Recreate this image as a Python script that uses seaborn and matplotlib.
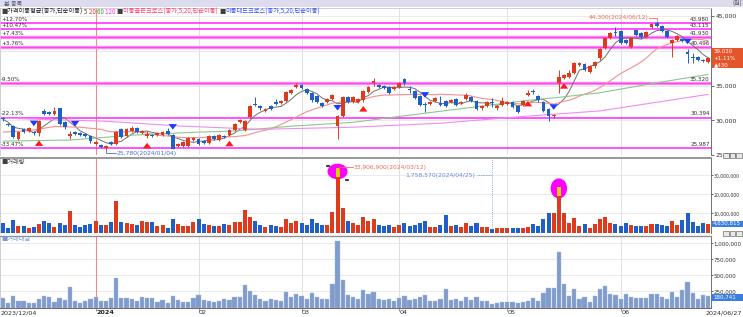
import numpy as np
import pandas as pd
import matplotlib
matplotlib.use("Agg")
import matplotlib.pyplot as plt
import seaborn as sns
from matplotlib.patches import Rectangle, Ellipse

sns.set_theme(style="white")
plt.rcParams['font.family'] = ['Noto Sans CJK KR', 'DejaVu Sans']
plt.rcParams['axes.unicode_minus'] = False

# ---------------- data ----------------
opens = [30200,29450,29150,27300,28700,28450,28300,28150,31300,31150,
         30850,31700,29700,27700,28300,28200,28000,27700,26550,26450,
         26000,26850,26600,28700,27700,28450,28850,28150,27700,27900,
         27850,27850,28450,27850,26300,26300,26300,27150,27300,27000,
         26700,27700,27150,27700,27850,28600,29700,28600,30450,32300,
         32000,31300,32000,32600,32450,32750,34000,34750,35050,34450,
         34000,33450,32450,32600,33000,29150,30600,33300,32600,32600,
         32850,34050,35300,35050,35000,34750,34450,34750,36000,34400,
         34150,33450,32300,32300,32750,32450,32750,32600,33000,32450,
         33000,33300,32750,31700,32000,32600,31700,32150,32300,32600,
         32000,32150,33600,34200,33450,32600,31600,30550,35300,36150,
         36300,36750,38000,38150,37000,37750,38900,40450,41850,42750,
         42900,41600,40600,43000,42600,42000,43450,44000,43600,42900,
         41150,41600,41750,39850,39050,39050,38700,38450]
highs = [30450,29600,29300,28450,28850,29000,28500,30050,31600,31400,
         31900,31800,29850,28450,28450,28350,28150,27850,27000,26600,
         26450,27000,28500,28850,28900,29150,29000,28600,28400,28050,
         28300,28450,28850,28000,26700,27000,27600,27600,27450,27150,
         27850,27850,28000,27850,28750,29600,30150,30000,32150,33300,
         32150,31750,32150,33000,32900,34200,34450,35400,35200,34600,
         34100,33600,32600,33200,33750,30750,33450,33450,33450,33150,
         34300,34900,36150,35200,35150,34900,34900,35450,36150,35000,
         34300,33600,32600,32750,33300,33450,32900,33050,33150,32750,
         33900,33450,32900,32150,32750,33150,32150,33300,32750,32750,
         32150,32900,34300,34450,33600,32750,31750,30850,37300,36600,
         37300,38450,38450,38300,38000,38600,40450,42000,42750,43450,
         43050,41750,42000,43150,42750,42900,44000,44300,43750,43050,
         41750,42300,41900,40300,39750,39300,38850,39150]
lows = [29900,29150,27400,27150,28150,28300,27950,27750,30700,30800,
        30700,29300,28800,27300,27850,27750,27550,26800,26400,26000,
        25780,26400,26450,27450,27550,28300,28150,28000,27400,27550,
        27700,27700,27850,25800,26150,26150,26150,27000,26450,26600,
        26550,27150,27000,27450,27700,28450,29550,28450,30300,32000,
        31550,31150,31450,32150,32300,32600,33850,34600,34450,33850,
        32700,32450,31850,32450,32850,27300,30450,32450,32450,32450,
        32700,33900,34900,34600,34450,33850,34300,34600,35150,34000,
        33000,32000,31150,32150,32600,32000,31850,32450,32000,32300,
        32850,32600,31450,31550,31850,31850,31550,32000,32150,31700,
        31000,32000,33450,33850,32700,31150,29850,30400,34000,36000,
        36150,36600,37850,37150,36850,37600,38750,40300,41700,42150,
        41000,41000,40450,42150,41850,41850,43300,43450,42750,41850,
        39150,41450,41300,38300,38300,38600,38450,38300]
closes = [30150,29300,27600,28300,28300,28850,28150,29850,30850,30950,
          31300,29450,29000,28000,28000,27900,27700,26950,26850,26150,
          26300,26550,28300,27600,28700,28850,28300,28450,28000,27700,
          28150,28300,28000,25850,26550,26850,27450,27400,26600,26750,
          27700,27300,27850,27600,28600,29450,30000,29850,32000,32250,
          31700,31600,31600,32300,32750,34050,34300,35050,34600,34000,
          32850,32600,32000,33000,33600,30600,33300,32600,33300,33000,
          34150,34750,35600,34750,34600,34000,34750,35300,35300,34350,
          33150,32150,32150,32600,33150,32150,32000,32900,32150,32600,
          33600,32750,31600,32000,32600,32550,32000,32750,32600,31850,
          31150,32750,34000,34100,32850,31300,30550,30700,36300,36450,
          36750,38300,38300,37300,37850,38450,40300,41850,42600,42600,
          41150,41150,41850,42300,42000,42750,43850,43600,42900,42000,
          41600,42150,41450,39600,39000,38750,38600,39030]
volume_mil = [4.9,2.6,6.5,3.6,3.6,2.6,2.7,4.3,5.8,5.1,
              2.9,5.0,4.1,11.2,3.8,2.7,3.8,4.7,5.9,4.0,
              4.0,5.6,16.4,5.4,5.2,4.4,3.7,6.0,5.3,5.6,
              3.2,4.2,2.5,7.0,4.5,3.4,3.3,5.4,7.1,4.5,
              3.8,3.3,3.6,4.6,4.2,5.4,5.3,11.7,8.0,6.0,
              4.0,3.0,4.0,3.5,3.0,7.0,5.0,6.0,5.0,4.0,
              7.0,5.0,4.0,4.0,11.0,33.9069,13.0,6.0,5.0,4.0,
              8.0,6.0,7.0,4.0,3.5,4.0,3.0,4.0,5.0,3.5,
              4.0,5.0,6.0,3.0,3.0,4.0,9.0,3.5,4.0,3.0,
              5.0,3.5,5.0,3.0,3.0,1.75857,2.3,2.5,2.5,2.5,
              2.3,2.6,2.8,4.3,3.2,7.2,10.0,10.0,24.0,10.0,
              5.0,7.6,3.4,4.5,2.4,4.5,7.0,8.0,5.0,4.5,
              3.2,5.0,4.0,3.5,3.4,3.4,4.7,4.7,4.0,3.2,
              6.0,3.8,6.5,10.0,5.7,3.4,5.0,4.630815]
ma20_head_idx = [0, 5, 10, 15, 19]
ma20_head_val = [28300, 28500, 29100, 29000, 28700]
ma60_idx = [0, 13, 25, 38, 45, 56, 68, 85, 102, 108, 116, 127, 137]
ma60_val = [27000, 27150, 27850, 28300, 28450, 29150, 29700, 31300, 32870, 33300, 33970, 35400, 36600]
ma120_idx = [0, 20, 35, 50, 68, 85, 102, 116, 137]
ma120_val = [30300, 29860, 29150, 28700, 29000, 29580, 30600, 31350, 33730]
golden_idx = [7, 28, 44, 70, 102, 109]
dead_idx = [6, 14, 33, 65, 82, 107, 133]
level_prices = [43980, 43115, 41930, 40496, 35320, 30394, 25987]
level_pcts = ['+12.70%', '+10.47%', '+7.43%', '+3.76%', '-9.50%', '-22.13%', '-33.47%']
level_names = ['43,980', '43,115', '41,930', '40,496', '35,320', '30,394', '25,987']
price_ticks = [45000, 40000, 35000, 30000, 25000]
price_tick_labels = ['45,000', '', '35,000', '30,000', '25,000']
vol_ticks = [10e6, 20e6, 30e6]
val_ticks = [250000, 500000, 750000, 1000000]
month_pos = [38, 58, 77, 98, 120]
month_labels = ['02', '03', '04', '05', '06']
year_pos = 18
first_date, last_date = '2023/12/04', '2024/06/27'
low_date, high_date = '2024/01/04', '2024/06/12'
maxvol_date, minvol_date = '2024/03/12', '2024/04/25'
prev_close = 38600

# ---------------- derived ----------------
n = len(closes)
df = pd.DataFrame(dict(i=np.arange(n), o=opens, h=highs, l=lows, c=closes,
                       v=np.array(volume_mil) * 1e6))
df['ma5'] = df.c.rolling(5, min_periods=1).mean()
df['ma20'] = df.c.rolling(20).mean()
df['value'] = df.v * df.c / 1e6
df['up'] = df.c >= df.o
ma20_x = ma20_head_idx + list(df.i[20:])
ma20_y = ma20_head_val + list(df.ma20[20:])

UP, DN = '#e03a1c', '#1f5fc8'
W, H = 743, 317
fig = plt.figure(figsize=(W / 100, H / 100), dpi=100)
fig.patch.set_facecolor('white')
fx = lambda x: x / W
fy = lambda y: 1 - y / H
NUM = ['DejaVu Sans']

def add_ax(x0, y0, x1, y1):
    a = fig.add_axes([fx(x0), fy(y1), (x1 - x0) / W, (y1 - y0) / H])
    a.set_facecolor('white')
    return a

X0, X1 = -0.58, 137.56
FS = 4.6
TXT = '#303030'

# header strip
fig.patches.append(Rectangle((0, fy(7)), 1, 7 / H, transform=fig.transFigure,
                             facecolor='#dcdcee', edgecolor='none', zorder=0))
fig.text(fx(4), fy(3.5), '본 종목', fontsize=4.4, color='#555577', va='center')
fig.text(fx(742), fy(3.5), '(원)', fontsize=4.4, color='#555555', va='center', ha='right')

# ---------------- price panel ----------------
ax = add_ax(0, 8, 711, 155)
ax.set_xlim(X0, X1)
ax.set_ylim(25147, 46168)
for p in price_ticks:
    ax.axhline(p, color='#e6e6e6', lw=0.6, zorder=0)
for m in month_pos:
    ax.axvline(m, color='#e0e0e0', lw=0.7, zorder=0)
ax.axvline(year_pos, color='#f08a8a', lw=0.8, zorder=0)

styles = [('#ff22ff', 1.1), ('#ff22ff', 1.1), ('#ff88ee', 2.4), ('#ff88ee', 2.4),
          ('#ff88ee', 2.4), ('#ff22ff', 1.1), ('#ff22ff', 1.1)]
for p, pct, nm, (col, lw) in zip(level_prices, level_pcts, level_names, styles):
    ax.axhline(p, color=col, lw=lw, zorder=1)
    if lw > 2:
        ax.axhline(p, color='#ff33ff', lw=0.6, zorder=1)
    ax.annotate(pct, xy=(X0, p), xytext=(0.8, 1.0), textcoords='offset points',
                fontsize=4.1, family=NUM, color=TXT, va='bottom', ha='left')
    ax.annotate(nm, xy=(X1, p), xytext=(-1, 1.0), textcoords='offset points',
                fontsize=4.1, family=NUM, color=TXT, va='bottom', ha='right')

# moving averages
sns.lineplot(x=df.i, y=df.ma5, ax=ax, color='#707070', lw=0.7, legend=False, zorder=2)
sns.lineplot(x=ma20_x, y=ma20_y, ax=ax, color='#f39090', lw=0.8, legend=False, zorder=2)
sns.lineplot(x=ma60_idx, y=ma60_val, ax=ax, color='#8cc88c', lw=0.8, legend=False, zorder=2)
sns.lineplot(x=ma120_idx, y=ma120_val, ax=ax, color='#f08cf0', lw=0.8, legend=False, zorder=2)

# candles
for r in df.itertuples():
    col = UP if r.up else DN
    ax.vlines(r.i, r.l, r.h, color=col, lw=0.7, zorder=3)
    body = max(abs(r.c - r.o), 110)
    ax.bar(r.i, body, bottom=min(r.o, r.c), width=0.74, color=col, lw=0, zorder=4)

# cross arrows
AST = 'simple,head_width=0.75,head_length=0.5,tail_width=0.38'
for g in golden_idx:
    lo = df.l[g]
    ax.annotate('', xy=(g, lo - 250), xytext=(g, lo - 1450),
                arrowprops=dict(arrowstyle=AST, color='#ff1a1a', lw=0, mutation_scale=8), zorder=5)
for d in dead_idx:
    hi = df.h[d]
    ax.annotate('', xy=(d, hi + 250), xytext=(d, hi + 1450),
                arrowprops=dict(arrowstyle=AST, color='#1a3cff', lw=0, mutation_scale=8), zorder=5)

# high / low annotations
il = int(np.argmin(lows)); ih = int(np.argmax(highs))
ax.plot([il, il, il + 2], [lows[il] - 80, lows[il] - 500, lows[il] - 500], color='#4a6ad0', lw=0.6, zorder=5)
ax.text(il + 2.1, lows[il] - 500, f"{lows[il]:,}({low_date})", fontsize=4.3, family=NUM,
        color='#4a6ad0', va='center', ha='left')
ax.plot([ih - 1.5, ih, ih], [highs[ih] + 500, highs[ih] + 500, highs[ih] + 80], color='#f06a55', lw=0.6, zorder=5)
ax.text(ih - 1.6, highs[ih] + 500, f"{highs[ih]:,}({high_date})", fontsize=4.3, family=NUM,
        color='#f06a55', va='center', ha='right')

ax.yaxis.tick_right()
ax.set_yticks(price_ticks)
ax.set_yticklabels(price_tick_labels, family=NUM)
ax.tick_params(axis='y', labelsize=4.4, colors=TXT, length=2, width=0.5, pad=1.5, direction='out', right=True)
ax.set_xticks([])
ax.set_xlabel(''); ax.set_ylabel('')
for s in ['left', 'top']:
    ax.spines[s].set_color('#c8c8c8'); ax.spines[s].set_linewidth(0.6)
ax.spines['bottom'].set_visible(False)
ax.spines['right'].set_color('#707070'); ax.spines['right'].set_linewidth(0.7)

# header legend text (sequential)
renderer = fig.canvas.get_renderer()
def seq_text(x, y, parts, size):
    for s, col in parts:
        t = fig.text(fx(x), fy(y), s, fontsize=size, color=col, va='center', ha='left')
        x += t.get_window_extent(renderer=renderer).width
seq_text(1, 11.5, [('■', '#404040'), ('가격이동평균(종가,단순이동) ', '#202020'), ('5 ', '#505050'),
                   ('20 ', '#ff3030'), ('60 ', '#2ca02c'), ('120 ', '#ff30ff'),
                   ('■', '#404040'), ('이동골든크로스(종가,5,20,단순이동) ', '#ff3c6e'),
                   ('■', '#404040'), ('이동데드크로스(종가,5,20,단순이동)', '#3050ff')], 4.5)

# price box
last = closes[-1]
y_last = (46168 - last) / 143 + 8
fig.patches.append(Rectangle((fx(712), fy(y_last + 10)), 31 / W, 20 / H, transform=fig.transFigure,
                             facecolor='#e4552c', edgecolor='none', zorder=10))
chg = last - prev_close
for dy, s in [(-6.3, f"{last:,}"), (0.2, f"+{chg / prev_close * 100:.2f}%"), (6.6, f"▲{chg:,}")]:
    fig.text(fx(713.5), fy(y_last + dy), s, fontsize=4.0, family=NUM, color='white', va='center', zorder=11)

# ---------------- volume panel ----------------
av = add_ax(0, 158, 711, 233)
av.set_xlim(X0, X1)
av.set_ylim(-0.26e6, 39.2e6)
for t in vol_ticks:
    av.axhline(t, color='#e6e6e6', lw=0.6, zorder=0)
for m in month_pos:
    av.axvline(m, color='#e0e0e0', lw=0.7, zorder=0)
av.axvline(year_pos, color='#f08a8a', lw=0.8, zorder=0)
av.bar(df.i, df.v, width=0.78, color=[UP if u else DN for u in df.up], lw=0, zorder=2)
imax = int(df.v.idxmax()); imin = int(df.v.idxmin())
i2 = int(df.v.drop(index=range(imax - 3, imax + 4)).idxmax())
for k in (imax, i2):
    av.bar(k, 4.6e6, bottom=df.v[k] - 4.6e6, width=0.78, color='#d8d400', lw=0, zorder=3)
av.add_patch(Ellipse((imax, df.v[imax] - 1.8e6), 3.9, 8.2e6, facecolor='#ff00ff', edgecolor='none', zorder=1.5))
av.add_patch(Ellipse((i2, df.v[i2] - 0.8e6), 3.2, 10.5e6, facecolor='#ff00ff', edgecolor='none', zorder=1.5))
av.plot([imax - 2, imax - 1.6], [df.v[imax] + 1.0e6, df.v[imax] + 1.0e6], color='#404040', lw=1.6, zorder=6)
av.plot([imax + 1.6, imax + 2.0], [df.v[imax] - 6.5e6, df.v[imax] - 6.5e6], color='#404040', lw=1.6, zorder=6)
av.plot([imax + 0.3, imax + 0.3, imax + 3], [df.v[imax] - 1e6, df.v[imax] + 0.5e6, df.v[imax] + 0.5e6],
        color='#f06a55', lw=0.6, zorder=6)
av.text(imax + 3.1, df.v[imax] + 0.5e6, f"{int(df.v[imax]):,}({maxvol_date})", fontsize=4.3, family=NUM,
        color='#f06a55', va='center', ha='left')
ymin_txt = 30.0e6
av.text(imin - 3.2, ymin_txt, f"{int(df.v[imin]):,}({minvol_date})", fontsize=4.3, family=NUM,
        color='#6a8ad8', va='center', ha='right')
av.plot([imin - 3.0, imin], [ymin_txt, ymin_txt], color='#6a8ad8', lw=0.6, ls=(0, (1, 1)), zorder=6)
av.plot([imin, imin], [df.v[imin], 39e6], color='#6a8ad8', lw=0.6, ls=(0, (1, 1.5)), zorder=6)
av.yaxis.tick_right()
av.set_yticks(vol_ticks)
av.set_yticklabels([f"{int(t):,}" for t in vol_ticks], family=NUM)
av.tick_params(axis='y', labelsize=3.3, colors=TXT, length=1.2, width=0.5, pad=0.6, right=True)
av.set_xticks([])
av.set_xlabel(''); av.set_ylabel('')
av.spines['top'].set_color('#909090'); av.spines['top'].set_linewidth(1.3)
av.spines['left'].set_color('#c8c8c8'); av.spines['left'].set_linewidth(0.6)
av.spines['bottom'].set_visible(False)
av.spines['right'].set_color('#707070'); av.spines['right'].set_linewidth(0.7)
fig.text(fx(1), fy(161.5), '■거래량', fontsize=4.5, color='#404040', va='center')

# ---------------- trading value panel ----------------
aw = add_ax(0, 236, 711, 308)
aw.set_xlim(X0, X1)
aw.set_ylim(-7800, 1115400)
for t in val_ticks:
    aw.axhline(t, color='#e6e6e6', lw=0.6, zorder=0)
for m in month_pos:
    aw.axvline(m, color='#e0e0e0', lw=0.7, zorder=0)
aw.axvline(year_pos, color='#f08a8a', lw=0.8, zorder=0)
sns.barplot(x=df.i, y=df.value, ax=aw, native_scale=True, color='#7f9ccc', width=0.82,
            saturation=1, edgecolor='#a9bde0', linewidth=0.3, zorder=2)
aw.set_xlim(X0, X1)
aw.yaxis.tick_right()
aw.set_yticks(val_ticks)
aw.set_yticklabels([f"{t:,}" for t in val_ticks], family=NUM)
aw.tick_params(axis='y', labelsize=4.0, colors=TXT, length=1.2, width=0.5, pad=0.8, right=True)
aw.set_xticks(month_pos + [year_pos])
aw.set_xticklabels([])
aw.tick_params(axis='x', length=2, width=0.5, colors='#707070', bottom=True)
aw.set_xlabel(''); aw.set_ylabel('')
aw.spines['top'].set_color('#909090'); aw.spines['top'].set_linewidth(1.0)
aw.spines['left'].set_color('#c8c8c8'); aw.spines['left'].set_linewidth(0.6)
aw.spines['bottom'].set_color('#707070'); aw.spines['bottom'].set_linewidth(0.8)
aw.spines['right'].set_color('#707070'); aw.spines['right'].set_linewidth(0.7)
fig.text(fx(1), fy(238.5), '■거래대금', fontsize=4.5, color='#7c9ad0', va='center')

# value boxes
def box(y_px, text):
    fig.patches.append(Rectangle((fx(712), fy(y_px + 3.2)), 31 / W, 6.4 / H, transform=fig.transFigure,
                                 facecolor='#3b7ee0', edgecolor='none', zorder=10))
    fig.text(fx(713), fy(y_px), text, fontsize=4.0, family=NUM, color='white', va='center', zorder=11)
vlast = df.v.iloc[-1]
box(232.5 - vlast / 1e6 * 1.9, f"{int(round(vlast)):,}")
wlast = df.value.iloc[-1]
box(307.5 - wlast / 15600 + 1.5, f"{int(round(wlast)):,}")

# small panel icons
for yy in (155.5, 233.5):
    for k in range(3):
        fig.patches.append(Rectangle((fx(723 + k * 6.5), fy(yy + 2.5)), 5.5 / W, 5 / H, transform=fig.transFigure,
                                     facecolor='#e8e8e8', edgecolor='#505050', lw=0.4, zorder=10))

# x labels
xpx = lambda i: 3 + 5.147 * i
fig.text(fx(1), fy(313), first_date, fontsize=FS, family=NUM, color=TXT, va='center', ha='left')
fig.text(fx(742), fy(313), last_date, fontsize=FS, family=NUM, color=TXT, va='center', ha='right')
fig.text(fx(xpx(year_pos) + 0.5), fy(313), '2024', fontsize=FS, family=NUM, color='#202020',
         va='center', ha='left', fontweight='bold')
for m, lab in zip(month_pos, month_labels):
    fig.text(fx(xpx(m) + 0.5), fy(313), lab, fontsize=FS, family=NUM, color=TXT, va='center', ha='left')

fig.savefig('out.png', dpi=100, facecolor='white')
